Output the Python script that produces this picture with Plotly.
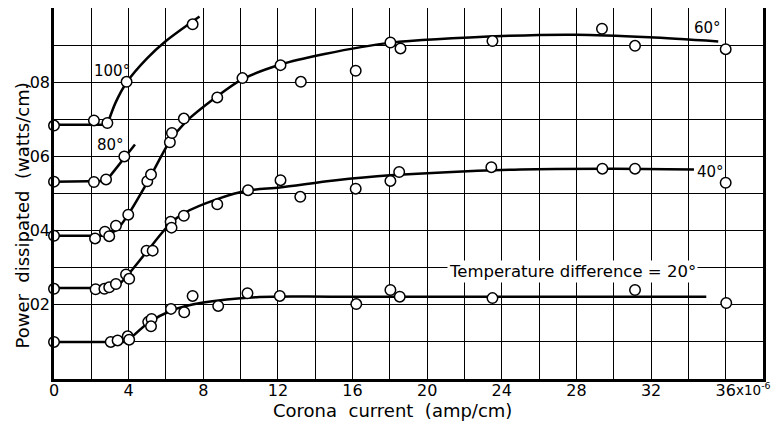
import plotly.graph_objects as go

# ---- data (x in 1e-6 amp/cm, y in watts/cm) ----
x_100 = [0, 2.14, 2.86, 3.89, 7.43]
y_100 = [0.0683, 0.0697, 0.0690, 0.0801, 0.0956]

x_80 = [0, 2.14, 2.79, 3.77]
y_80 = [0.0532, 0.0531, 0.0538, 0.0600]

x_60 = [0, 2.2, 2.73, 2.96, 3.32, 3.98, 5.0, 5.2, 6.21, 6.32, 6.96, 8.75, 10.1,
        12.14, 13.23, 16.17, 18.03, 18.57, 23.5, 29.37, 31.14, 36.0]
y_60 = [0.0386, 0.0379, 0.0397, 0.0385, 0.0413, 0.0443, 0.0533, 0.0551, 0.0638,
        0.0663, 0.0702, 0.0759, 0.0811, 0.0846, 0.0801, 0.0831, 0.0907, 0.0891,
        0.0911, 0.0944, 0.0898, 0.0889]

x_40 = [0, 2.23, 2.7, 2.96, 3.32, 3.86, 4.03, 4.96, 5.29, 6.25, 6.3, 6.96, 8.75,
        10.4, 12.14, 13.2, 16.17, 18.03, 18.5, 23.44, 29.39, 31.14, 36.0]
y_40 = [0.0243, 0.0242, 0.0243, 0.0247, 0.0256, 0.0282, 0.0270, 0.0346, 0.0346,
        0.0424, 0.0408, 0.0440, 0.0471, 0.0509, 0.0536, 0.0491, 0.0513, 0.0534,
        0.0558, 0.0571, 0.0567, 0.0567, 0.0529]

x_20 = [0, 3.04, 3.41, 3.95, 4.03, 5.05, 5.23, 5.2, 6.27, 6.98, 7.43, 8.8, 10.37,
        12.1, 16.2, 18.03, 18.53, 23.5, 31.14, 36.03]
y_20 = [0.0100, 0.0100, 0.0104, 0.0115, 0.0106, 0.0154, 0.0162, 0.0142, 0.0189,
        0.0180, 0.0224, 0.0197, 0.0231, 0.0224, 0.0202, 0.0240, 0.0222, 0.0218,
        0.0240, 0.0205]

# hand-drawn fitted curves (first segment is the flat part)
c100_x = [0, 2.85, 3.3, 3.9, 5.0, 6.0, 7.8]
c100_y = [0.0685, 0.0685, 0.0745, 0.0800, 0.0865, 0.0911, 0.0977]

c80_x = [0, 2.8, 4.34]
c80_y = [0.0532, 0.0534, 0.0632]

c60_x = [0, 2.8, 3.4, 4.0, 5.0, 6.2, 7.0, 8.75, 10.1, 12.1, 14.5, 18.0, 24.4, 28.0, 31.9, 35.6]
c60_y = [0.0386, 0.0386, 0.0404, 0.0445, 0.0530, 0.0640, 0.0690, 0.0762, 0.0808,
         0.0847, 0.0876, 0.0906, 0.0925, 0.0928, 0.0921, 0.0910]

c40_x = [0, 3.0, 3.5, 4.0, 5.0, 6.25, 7.0, 8.75, 10.4, 12.1, 15.0, 18.0, 25.0, 30.0, 34.3]
c40_y = [0.0245, 0.0245, 0.0256, 0.0283, 0.0345, 0.0420, 0.0448, 0.0485, 0.0508,
         0.0516, 0.0535, 0.0549, 0.0565, 0.0567, 0.0565]

c20_x = [0, 3.9, 5.05, 6.27, 8.0, 11.0, 15.0, 34.96]
c20_y = [0.0100, 0.0100, 0.0151, 0.0184, 0.0206, 0.0221, 0.0222, 0.0222]

x_ticks = list(range(0, 38, 2))
x_ticktext = [str(v) if v % 4 == 0 else "" for v in x_ticks]
y_ticks = [0.01, 0.02, 0.03, 0.04, 0.05, 0.06, 0.07, 0.08, 0.09]
y_ticktext = ["", ".02", "", ".04", "", ".06", "", ".08", ""]

FONT = "DejaVu Sans"

fig = go.Figure()

for cx, cy in [(c100_x, c100_y), (c80_x, c80_y), (c60_x, c60_y), (c40_x, c40_y), (c20_x, c20_y)]:
    # flat start segment
    fig.add_trace(go.Scatter(x=cx[:2], y=cy[:2], mode="lines",
                             line=dict(color="black", width=2.5),
                             hoverinfo="skip", showlegend=False, cliponaxis=False))
    # rising curve
    fig.add_trace(go.Scatter(x=cx[1:], y=cy[1:], mode="lines",
                             line=dict(color="black", width=2.5, shape="spline", smoothing=0.8),
                             hoverinfo="skip", showlegend=False, cliponaxis=False))

for px, py in [(x_100, y_100), (x_80, y_80), (x_60, y_60), (x_40, y_40), (x_20, y_20)]:
    fig.add_trace(go.Scatter(x=px, y=py, mode="markers",
                             marker=dict(symbol="circle", size=10.5, color="white",
                                         line=dict(color="black", width=1.5)),
                             showlegend=False, cliponaxis=False))

deg_font = dict(family=FONT, size=15, color="black")
fig.add_annotation(x=3.1, y=0.0831, text="100°", showarrow=False, font=deg_font)
fig.add_annotation(x=3.05, y=0.063, text="80°", showarrow=False, font=deg_font)
fig.add_annotation(x=35.0, y=0.0947, text="60°", showarrow=False, font=deg_font)
fig.add_annotation(x=35.2, y=0.0558, text="40°", showarrow=False, font=deg_font)
fig.add_annotation(x=27.8, y=0.0289, text="Temperature difference = 20°", showarrow=False,
                   font=dict(family=FONT, size=16.5, color="black"), bgcolor="white")

# axis titles and exponent as positioned annotations
fig.add_annotation(xref="paper", yref="paper", x=0.478, y=-0.085,
                   xanchor="center", yanchor="middle",
                   text="Corona  current  (amp/cm)", showarrow=False,
                   font=dict(family=FONT, size=18, color="black"))
fig.add_annotation(xref="paper", yref="paper", x=-0.044, y=0.44, textangle=-90,
                   xanchor="center", yanchor="middle",
                   text="Power  dissipated  (watts/cm)", showarrow=False,
                   font=dict(family=FONT, size=18, color="black"))
fig.add_annotation(xref="x", yref="paper", x=36.45, y=-0.027, xanchor="left", yanchor="middle",
                   text="x10<sup>-6</sup>", showarrow=False,
                   font=dict(family=FONT, size=13.5, color="black"))

# page body has an 8px margin: shrink the figure and margins to compensate
fig.update_layout(
    width=773, height=417,
    margin=dict(l=46, r=18, t=0, b=45.5, autoexpand=False),
    paper_bgcolor="white", plot_bgcolor="white",
    font=dict(family=FONT, size=16, color="black"),
    xaxis=dict(range=[0, 38], tickvals=x_ticks, ticktext=x_ticktext,
               showgrid=True, gridcolor="black", gridwidth=1.3,
               showline=True, linecolor="black", linewidth=2.5, mirror=True,
               ticks="", zeroline=False, tickfont=dict(size=16),
               ticklabelstandoff=-5),
    yaxis=dict(range=[0, 0.10], tickvals=y_ticks, ticktext=y_ticktext,
               showgrid=True, gridcolor="black", gridwidth=1.3,
               showline=True, linecolor="black", linewidth=2.5, mirror=True,
               ticks="", zeroline=False, tickfont=dict(size=16),
               ticklabelstandoff=-2),
)

fig.write_html("out.html")
